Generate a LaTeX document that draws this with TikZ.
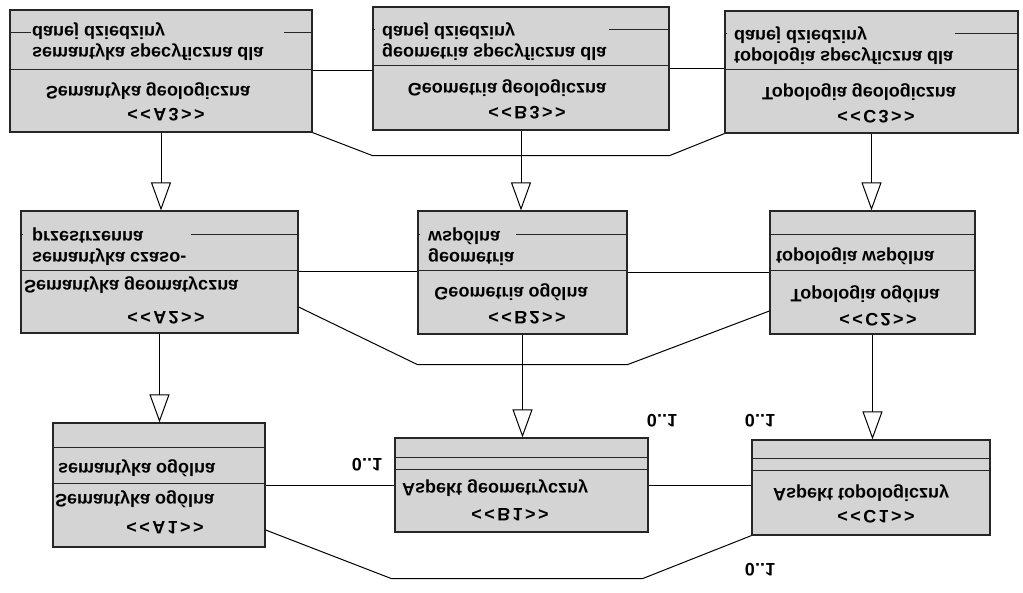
\documentclass[tikz,border=0pt]{standalone}
\usepackage{fontspec}
\setmainfont{Liberation Sans}
\usepackage{graphicx}
\usetikzlibrary{arrows.meta, calc}
\newcommand{\fl}[1]{\scalebox{1}[-1]{#1}}
\newcommand{\twolines}[2]{\fl{\begin{tabular}{@{}l@{}}#1\\#2\end{tabular}}}
\newcommand{\stereo}[2]{\fl{<\kern2.4pt<\kern2.4pt#1\kern2.4pt#2\kern2.4pt>\kern2.4pt>}}

\begin{document}
\begin{tikzpicture}[x=1pt,y=-1pt,>={Triangle[open,length=28pt,width=20pt]},
  cls/.style={draw=black!85,fill=black!17,line width=1.2pt,rectangle,inner sep=0pt},
  sep/.style={draw=black!85,line width=1.1pt},
  txt/.style={font=\fontsize{18}{21}\selectfont\bfseries,inner sep=0pt},
  link/.style={draw=black,line width=1pt}]
  \useasboundingbox (0,0) rectangle (1023,593);
  % klasy
  \node[cls,minimum width=302pt,minimum height=122pt] (A3) at (161,71) {};
  \node[cls,minimum width=296pt,minimum height=123pt] (B3) at (521,68.5) {};
  \node[cls,minimum width=293pt,minimum height=122pt] (C3) at (871.5,72) {};
  \node[cls,minimum width=277pt,minimum height=122pt] (A2) at (159.5,272) {};
  \node[cls,minimum width=209pt,minimum height=123pt] (B2) at (522.5,272.5) {};
  \node[cls,minimum width=205pt,minimum height=123pt] (C2) at (872.5,272.5) {};
  \node[cls,minimum width=212pt,minimum height=124pt] (A1) at (159,485) {};
  \node[cls,minimum width=253pt,minimum height=94pt] (B1) at (521.5,485) {};
  \node[cls,minimum width=238pt,minimum height=95pt] (C1) at (871,487.5) {};
  % przegrody
  \draw[sep] ($(A3.north west)+(0,60)$) -- ($(A3.north east)+(0,60)$);
  \draw[sep] ($(B3.north west)+(0,59)$) -- ($(B3.north east)+(0,59)$);
  \draw[sep] ($(C3.north west)+(0,59)$) -- ($(C3.north east)+(0,59)$);
  \draw[sep] ($(A2.north west)+(0,60)$) -- ($(A2.north east)+(0,60)$);
  \draw[sep] ($(B2.north west)+(0,60)$) -- ($(B2.north east)+(0,60)$);
  \draw[sep] ($(C2.north west)+(0,24)$) -- ($(C2.north east)+(0,24)$);
  \draw[sep] ($(C2.north west)+(0,60)$) -- ($(C2.north east)+(0,60)$);
  \draw[sep] ($(A1.north west)+(0,25)$) -- ($(A1.north east)+(0,25)$);
  \draw[sep] ($(A1.north west)+(0,61)$) -- ($(A1.north east)+(0,61)$);
  \draw[sep] ($(B1.north west)+(0,20)$) -- ($(B1.north east)+(0,20)$);
  \draw[sep] ($(B1.north west)+(0,32)$) -- ($(B1.north east)+(0,32)$);
  \draw[sep] ($(C1.north west)+(0,19)$) -- ($(C1.north east)+(0,19)$);
  \draw[sep] ($(C1.north west)+(0,31)$) -- ($(C1.north east)+(0,31)$);
  \draw[sep] ($(A3.north west)+(0,23)$) -- +(22,0) ($(A3.north east)+(0,23)$) -- +(-29,0);
  \draw[sep] ($(B3.north west)+(0,23)$) -- +(3,0) ($(B3.north east)+(0,23)$) -- +(-61,0);
  \draw[sep] ($(C3.north west)+(0,23)$) -- +(3,0) ($(C3.north east)+(0,23)$) -- +(-64,0);
  \draw[sep] ($(A2.north west)+(0,24)$) -- +(3,0) ($(A2.north east)+(0,24)$) -- +(-108,0);
  \draw[sep] ($(B2.north west)+(0,24)$) -- +(3,0) ($(B2.north east)+(0,24)$) -- +(-112,0);
  % teksty
  \node[txt,anchor=west] (a3s) at (32,41) {\twolines{semantyka specyficzna dla}{danej dziedziny}};
  \node[txt] (a3n) at (148,91) {\fl{Semantyka geologiczna}};
  \node[txt] (a3k) at (166,115) {\stereo{A}{3}};
  \node[txt,anchor=west] (b3s) at (382,41) {\twolines{geometria specyficzna dla}{danej dziedziny}};
  \node[txt] (b3n) at (507,88) {\fl{Geometria geologiczna}};
  \node[txt] (b3k) at (527,113) {\stereo{B}{3}};
  \node[txt,anchor=west] (c3s) at (734,45) {\twolines{topologia specyficzna dla}{danej dziedziny}};
  \node[txt] (c3n) at (859,92) {\fl{Topologia geologiczna}};
  \node[txt] (c3k) at (876,117) {\stereo{C}{3}};
  \node[txt,anchor=west] (a2s) at (32,246) {\twolines{semantyka czaso-}{przestrzenna}};
  \node[txt,anchor=west] (a2n) at (24,285) {\fl{Semantyka geomatyczna}};
  \node[txt] (a2k) at (166,318) {\stereo{A}{2}};
  \node[txt,anchor=west] (b2s) at (428,246) {\twolines{geometria}{wspólna}};
  \node[txt] (b2n) at (511,292) {\fl{Geometria ogólna}};
  \node[txt] (b2k) at (527,318) {\stereo{B}{2}};
  \node[txt,anchor=west] (c2s) at (776,256) {\fl{topologia wspólna}};
  \node[txt] (c2n) at (865,294) {\fl{Topologia ogólna}};
  \node[txt] (c2k) at (878,320) {\stereo{C}{2}};
  \node[txt,anchor=west] (a1s) at (58,468) {\fl{semantyka ogólna}};
  \node[txt,anchor=west] (a1n) at (55,499) {\fl{Semantyka ogólna}};
  \node[txt] (a1k) at (165,528) {\stereo{A}{1}};
  \node[txt,anchor=west] (b1n) at (402,488) {\fl{Aspekt geometryczny}};
  \node[txt] (b1k) at (510,515) {\stereo{B}{1}};
  \node[txt,anchor=west] (c1n) at (773,493) {\fl{Aspekt topologiczny}};
  \node[txt] (c1k) at (876,517) {\stereo{C}{1}};
  % krotnosci
  \node[txt] (m1) at (367,465) {\fl{0..1}};
  \node[txt] (m2) at (662,421) {\fl{0..1}};
  \node[txt] (m3) at (760,421) {\fl{0..1}};
  \node[txt] (m4) at (760,570) {\fl{0..1}};
  % dziedziczenie
  \draw[link,->] (A3.south) -- (A3.south |- A2.north);
  \draw[link,->] (B3.south) -- (B3.south |- B2.north);
  \draw[link,->] (C3.south) -- (C3.south |- C2.north);
  \draw[link,->] (A2.south) -- (A2.south |- A1.north);
  \draw[link,->] (B2.south) -- (B2.south |- B1.north);
  \draw[link,->] (C2.south) -- (C2.south |- C1.north);
  % powiazania
  \draw[link] (A3.east) -- (A3.east -| B3.west);
  \draw[link] (B3.east) -- (B3.east -| C3.west);
  \draw[link] (A3.south east) -- ($(B3.south west)+(0,25)$) -- ($(B3.south east)+(0,25)$) -- (C3.south west);
  \draw[link] (A2.east) -- (A2.east -| B2.west);
  \draw[link] (B2.east) -- (B2.east -| C2.west);
  \draw[link] ($(A2.east)+(0,35)$) -- ($(B2.south west)+(0,30)$) -- ($(B2.south east)+(0,30)$) -- ($(C2.west)+(0,38.5)$);
  \draw[link] (A1.east) -- (A1.east -| B1.west);
  \draw[link] (B1.east) -- (B1.east -| C1.west);
  \draw[link] ($(A1.east)+(0,45)$) -- ($(B1.south west)+(-3,46)$) -- ($(B1.south east)+(-6,46)$) -- (C1.south west);
\end{tikzpicture}
\end{document}
